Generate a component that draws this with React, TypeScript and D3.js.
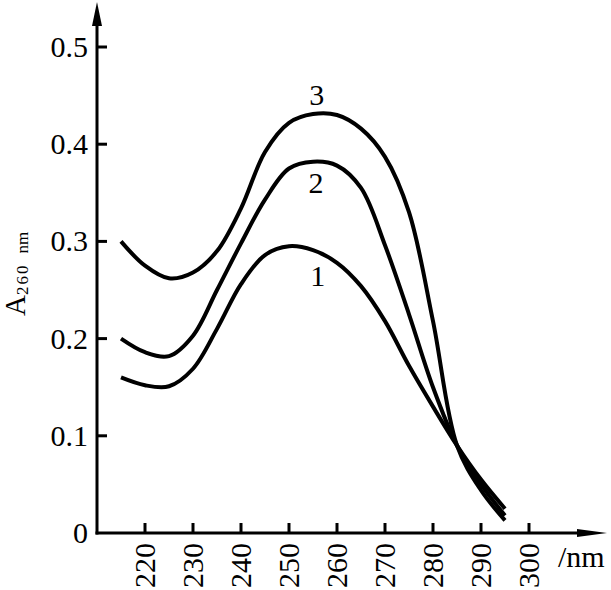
import React from "react";
import * as d3 from "d3";

const wavelengths = [215, 220, 225, 230, 235, 240, 245, 250, 255, 260, 265, 270, 275, 280, 285, 290, 295];
const curve1 = [0.160, 0.152, 0.151, 0.169, 0.210, 0.256, 0.286, 0.295, 0.291, 0.278, 0.254, 0.218, 0.172, 0.130, 0.090, 0.055, 0.025];
const curve2 = [0.200, 0.186, 0.182, 0.203, 0.250, 0.298, 0.343, 0.375, 0.382, 0.378, 0.355, 0.296, 0.225, 0.150, 0.090, 0.050, 0.018];
const curve3 = [0.300, 0.275, 0.262, 0.268, 0.290, 0.334, 0.392, 0.422, 0.431, 0.430, 0.416, 0.387, 0.330, 0.218, 0.090, 0.044, 0.013];
const seriesLabels = ["1", "2", "3"];
const labelPos = [
  { nm: 256, v: 0.254 },
  { nm: 255.6, v: 0.350 },
  { nm: 255.8, v: 0.440 },
];
const xTicks = [220, 230, 240, 250, 260, 270, 280, 290, 300];
const yTicks = [0, 0.1, 0.2, 0.3, 0.4, 0.5];

export default function App() {
  const W = 611, H = 590;
  const x = d3.scaleLinear().domain([210, 300]).range([97, 529]);
  const y = d3.scaleLinear().domain([0, 0.5]).range([533, 47]);
  const line = d3
    .line<number>()
    .x((_, i) => x(wavelengths[i]))
    .y((d) => y(d))
    .curve(d3.curveCatmullRom.alpha(0.5));
  const series = [curve1, curve2, curve3];
  const font = "'Liberation Serif', 'Times New Roman', serif";
  const x0 = x(210), y0 = y(0);

  return (
    <svg width={W} height={H} style={{ position: "absolute", left: 0, top: 0, background: "#fff" }} fontFamily={font}>
      {/* axes */}
      <line x1={x0} y1={y0 + 1.5} x2={x0} y2={20} stroke="#000" strokeWidth={3} />
      <line x1={x0 - 1.5} y1={y0} x2={585} y2={y0} stroke="#000" strokeWidth={3} />
      <path d={`M${x0},2 L${x0 - 5},26 L${x0 + 5},26 Z`} fill="#000" />
      <path d={`M607,${y0} L577,${y0 - 4} L577,${y0 + 4} Z`} fill="#000" />
      {yTicks.filter((t) => t > 0).map((t) => (
        <line key={t} x1={x0} x2={x0 + 10} y1={y(t)} y2={y(t)} stroke="#000" strokeWidth={3} />
      ))}
      {xTicks.map((t) => (
        <line key={t} x1={x(t)} x2={x(t)} y1={y0} y2={y0 - 10} stroke="#000" strokeWidth={3} />
      ))}
      {yTicks.map((t) => (
        <text key={t} x={88} y={y(t) + 10} fontSize={30} textAnchor="end">
          {t === 0 ? "0" : d3.format(".1f")(t)}
        </text>
      ))}
      {xTicks.map((t) => (
        <text key={t} transform={`translate(${x(t) + 10},543) rotate(-90)`} fontSize={30} textAnchor="end">
          {t}
        </text>
      ))}
      <text x={558} y={567} fontSize={30}>/nm</text>
      <text transform="translate(25,316) rotate(-90)" fontSize={29}>
        A
        <tspan fontSize={17} dy={3} letterSpacing={2}>260</tspan>
        <tspan fontSize={17} dx={10}>nm</tspan>
      </text>
      {/* curves */}
      {series.map((s, i) => (
        <path key={i} d={line(s) || ""} fill="none" stroke="#000" strokeWidth={4} strokeLinecap="butt" />
      ))}
      {seriesLabels.map((l, i) => (
        <text key={l} x={x(labelPos[i].nm)} y={y(labelPos[i].v)} fontSize={30} textAnchor="middle">
          {l}
        </text>
      ))}
    </svg>
  );
}
